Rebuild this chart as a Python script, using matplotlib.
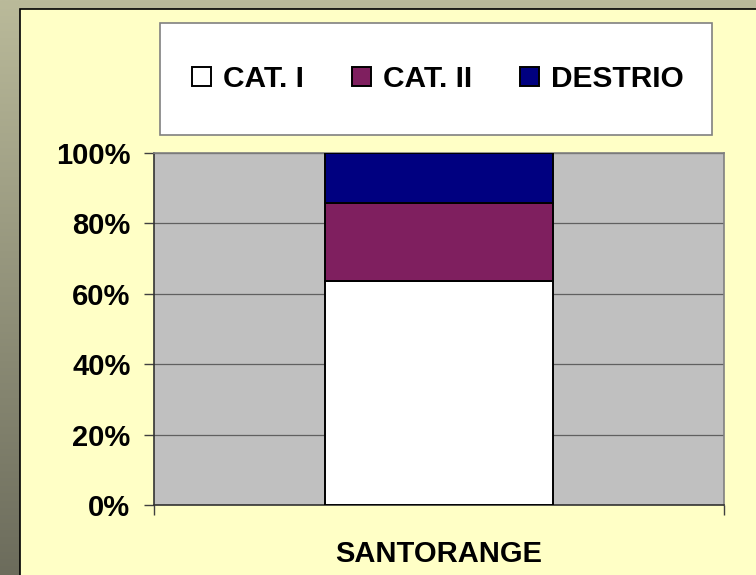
import numpy as np
import matplotlib
matplotlib.use("Agg")
import matplotlib.pyplot as plt
import matplotlib.patches as patches

plt.rcParams["font.family"] = ["Liberation Sans", "DejaVu Sans"]
plt.rcParams["font.weight"] = "bold"

# datos (porcentaje de cada categoría)
variedades = ["SANTORANGE"]
series = ["CAT. I", "CAT. II", "DESTRIO"]
cat_i = [63.6]
cat_ii = [22.2]
destrio = [14.2]
colores = ["#FFFFFF", "#7F1F5F", "#000080"]
y_ticks = [0, 20, 40, 60, 80, 100]
y_labels = ["0%", "20%", "40%", "60%", "80%", "100%"]

W, H = 756, 575
fig = plt.figure(figsize=(W / 100, H / 100), dpi=100)

# fondo degradado + panel amarillo
bg = fig.add_axes([0, 0, 1, 1], zorder=-10)
grad = np.linspace(0, 1, 256).reshape(-1, 1)
top = np.array([186, 186, 154]) / 255
bot = np.array([108, 108, 92]) / 255
img = top + (bot - top) * grad[:, :, None]
bg.imshow(img, extent=[0, 1, 0, 1], aspect="auto", origin="upper")
bg.set_xlim(0, 1)
bg.set_ylim(0, 1)
bg.axis("off")
bg.add_patch(patches.Rectangle((20 / W, -0.1), 1.2, 1 - 9 / H + 0.1,
                               facecolor="#FFFFC6", edgecolor="black", linewidth=1.2))
# caja de la leyenda
bg.add_patch(patches.Rectangle((160 / W, 1 - 135 / H), 552 / W, 112 / H,
                               facecolor="white", edgecolor="#808080", linewidth=1.2))

ax = fig.add_axes([154 / W, 1 - 505 / H, 570 / W, 352 / H])
ax.set_facecolor("#C0C0C0")

x = np.arange(len(variedades))
bottom = np.zeros(len(variedades))
for nombre, vals, c in zip(series, [cat_i, cat_ii, destrio], colores):
    ax.bar(x, vals, 0.4, bottom=bottom, color=c, edgecolor="black",
           linewidth=1.4, label=nombre, zorder=3)
    bottom += np.array(vals)

ax.set_xlim(-0.5, 0.5)
ax.set_ylim(0, 100)
ax.set_yticks(y_ticks)
ax.set_yticklabels(y_labels, fontsize=21, fontweight="bold")
ax.yaxis.grid(True, color="#606060", linewidth=0.9, zorder=1)
ax.set_axisbelow(True)
ax.tick_params(axis="y", direction="out", length=7, width=1, color="#404040", pad=10)

ax.set_xticks([-0.5, 0.5])
ax.set_xticklabels(["", ""])
ax.tick_params(axis="x", which="major", direction="out", length=7, width=1, color="#404040")
ax.set_xticks(x, minor=True)
ax.set_xticklabels(variedades, minor=True, fontsize=21, fontweight="bold")
ax.tick_params(axis="x", which="minor", length=0, pad=25)

for s in ["left", "bottom"]:
    ax.spines[s].set_color("#333333")
    ax.spines[s].set_linewidth(1.2)
for s in ["top", "right"]:
    ax.spines[s].set_color("#808080")
    ax.spines[s].set_linewidth(1.2)

ax.legend(loc="center", bbox_to_anchor=(438 / W, 1 - 79 / H),
          bbox_transform=fig.transFigure, ncol=3, frameon=False,
          handlelength=0.65, handleheight=0.65, handletextpad=0.4,
          columnspacing=1.6, prop={"size": 21.5, "weight": "bold"})

fig.savefig("out.png", dpi=100)
